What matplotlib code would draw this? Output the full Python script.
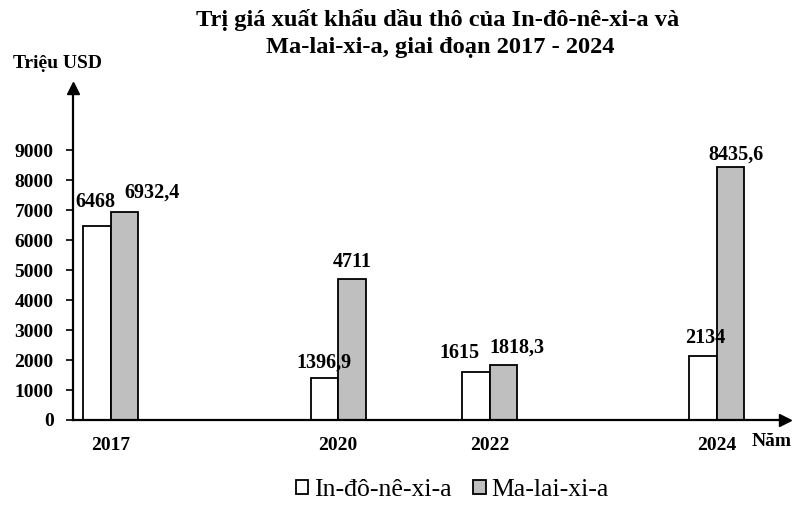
import numpy as np
import matplotlib
matplotlib.use('Agg')
import matplotlib.pyplot as plt

# ───────── DỮ LIỆU ─────────
years = ['2017', '2020', '2022', '2024']
indonesia = [6468, 1396.9, 1615, 2134]        # triệu USD
malaysia = [6932.4, 4711, 1818.3, 8435.6]     # triệu USD

# ───────── BỐ CỤC ─────────
xpos = np.array([0, 3, 5, 8])    # vị trí nhóm cột trên trục x
w = 0.364                        # bề rộng một cột
# độ lệch nhãn số liệu (pixel): (dx so với tâm cột, dy trên đỉnh cột)
off_ind = [(-1.5, 19), (0, 11), (-16, 14), (2, 13)]
off_mal = [(27.5, 14), (0, 12), (14, 13), (5.5, 7)]

plt.rcParams['font.family'] = ['Liberation Serif', 'DejaVu Serif']

fig = plt.figure(figsize=(8, 5.2), dpi=100)
ax = fig.add_axes([73/800, 1 - 420/520, (785 - 73)/800, (420 - 88)/520])

ax.bar(xpos - w/2, indonesia, w, color='white', edgecolor='black',
       lw=1.3, label='In-đô-nê-xi-a')
ax.bar(xpos + w/2, malaysia, w, color='#bfbfbf', edgecolor='black',
       lw=1.3, label='Ma-lai-xi-a')

def fmt(v):
    return f"{v:g}".replace('.', ',')

for x, v, (dx, dy) in zip(xpos - w/2, indonesia, off_ind):
    ax.annotate(fmt(v), (x, v), xytext=(dx, dy), textcoords='offset pixels',
                ha='center', va='baseline', fontsize=14.5, fontweight='bold')
for x, v, (dx, dy) in zip(xpos + w/2, malaysia, off_mal):
    ax.annotate(fmt(v), (x, v), xytext=(dx, dy), textcoords='offset pixels',
                ha='center', va='baseline', fontsize=14.5, fontweight='bold')

ax.set_xlim(-0.50, 8.90)
ax.set_ylim(0, 11070)

ax.set_yticks(range(0, 9001, 1000))
ax.set_yticklabels([str(t) for t in range(0, 9001, 1000)],
                   fontsize=14, fontweight='bold')
ax.tick_params(axis='y', length=5, width=1.2, pad=9)
ax.set_xticks(xpos)
ax.set_xticklabels(years, fontsize=14, fontweight='bold')
ax.tick_params(axis='x', length=0, pad=12)

for s in ['top', 'right']:
    ax.spines[s].set_visible(False)
for s in ['left', 'bottom']:
    ax.spines[s].set_linewidth(1.6)

# mũi tên ở đầu trục
ax.plot(1, 0, '>k', ms=9, transform=ax.transAxes, clip_on=False)
ax.plot(0, 1, '^k', ms=9, transform=ax.transAxes, clip_on=False)

fig.text(438/800, 1 - 20/520, 'Trị giá xuất khẩu dầu thô của In-đô-nê-xi-a và',
         ha='center', va='center', fontsize=17.6, fontweight='bold')
fig.text(440/800, 1 - 47/520, 'Ma-lai-xi-a, giai đoạn 2017 - 2024',
         ha='center', va='center', fontsize=17.6, fontweight='bold')
fig.text(58/800, 1 - 63/520, 'Triệu USD', ha='center', va='center',
         fontsize=14, fontweight='bold')
fig.text(772/800, 1 - 441/520, 'Năm', ha='center', va='center',
         fontsize=14, fontweight='bold')

fig.legend(loc='center', bbox_to_anchor=(452/800, 1 - 490/520), ncol=2,
           frameon=False, fontsize=18.5, handlelength=0.5, handleheight=0.5,
           handletextpad=0.2, columnspacing=0.85)

fig.savefig('out.png', dpi=100)
